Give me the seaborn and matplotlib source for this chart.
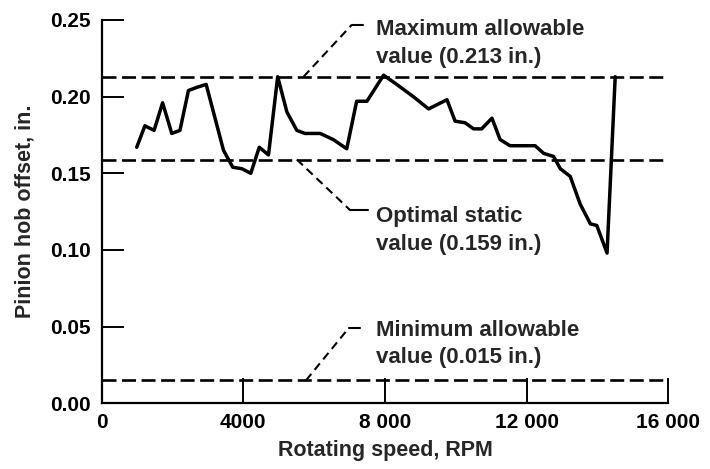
import matplotlib
matplotlib.use('Agg')
import matplotlib.pyplot as plt
import seaborn as sns

# pinion hob offset vs rotating speed
rpm = [990, 1220, 1480, 1720, 1980, 2210, 2450, 2680, 2950, 3440, 3700,
       3960, 4210, 4450, 4710, 4970, 5230, 5510, 5740, 6170, 6540, 6920,
       7200, 7490, 7960, 8330, 8800, 9230, 9750, 9980, 10260, 10500, 10730,
       11020, 11250, 11530, 12240, 12480, 12760, 12950, 13230, 13510, 13800,
       13980, 14270, 14500]
offset = [0.167, 0.181, 0.178, 0.196, 0.176, 0.178, 0.204, 0.206, 0.208,
          0.165, 0.154, 0.153, 0.150, 0.167, 0.162, 0.213, 0.190, 0.178,
          0.176, 0.176, 0.172, 0.166, 0.197, 0.197, 0.214, 0.208, 0.200,
          0.192, 0.198, 0.184, 0.183, 0.179, 0.179, 0.186, 0.172, 0.168,
          0.168, 0.163, 0.161, 0.153, 0.148, 0.130, 0.117, 0.116, 0.098,
          0.213]

limit_values = [0.213, 0.159, 0.015]
limit_labels = [('Maximum allowable', 'value (0.213 in.)'),
                ('Optimal static', 'value (0.159 in.)'),
                ('Minimum allowable', 'value (0.015 in.)')]
x_ticks = [0, 4000, 8000, 12000, 16000]
x_tick_labels = ['0', '4000', '8 000', '12 000', '16 000']
y_ticks = [0.00, 0.05, 0.10, 0.15, 0.20, 0.25]

sns.set_style('ticks')
plt.rcParams['font.family'] = ['Liberation Sans', 'DejaVu Sans']
plt.rcParams['font.weight'] = 'bold'

fig = plt.figure(figsize=(7.1, 4.69), dpi=100)
ax = fig.add_axes([0.1432, 0.140, 0.7981, 0.8174])

sns.lineplot(x=rpm, y=offset, ax=ax, color='black', linewidth=2.5,
             estimator=None, sort=False)

# limit lines
line_ends = [15900, 15900, 16000]
for val, xend in zip(limit_values, line_ends):
    ax.plot([0, xend], [val, val], color='black', linewidth=1.9,
            dashes=(5.3, 2.1), clip_on=False)

# leader lines: (start x, elbow x, elbow y, end x, baseline 1, baseline 2)
leaders = [(5700, 7060, 0.2468, 7380, 0.2403, 0.2218),
           (5510, 7010, 0.1261, 7530, 0.1185, 0.0998),
           (5770, 6970, 0.0489, 7300, 0.0439, 0.0261)]
for val, lines, (x0, xe, ye, x1, b1, b2) in zip(limit_values, limit_labels,
                                                leaders):
    ax.plot([x0, xe], [val, ye], color='black', linewidth=1.5,
            dashes=(4, 2.5), clip_on=False)
    ax.plot([xe, x1], [ye, ye], color='black', linewidth=1.5, clip_on=False)
    ax.text(7760, b1, lines[0], fontsize=16, fontweight='bold',
            va='baseline', ha='left')
    ax.text(7760, b2, lines[1], fontsize=16, fontweight='bold',
            va='baseline', ha='left')

ax.set_xlim(0, 16000)
ax.set_ylim(0, 0.25)
ax.set_xticks(x_ticks)
ax.set_xticklabels(x_tick_labels)
ax.set_yticks(y_ticks)
ax.set_yticklabels([f'{v:.2f}' for v in y_ticks])
ax.tick_params(axis='x', direction='in', length=18, width=1.4,
               labelsize=15, pad=7, colors='black')
ax.tick_params(axis='y', direction='in', length=16, width=1.4,
               labelsize=15, pad=8, colors='black')
for lab in ax.get_xticklabels() + ax.get_yticklabels():
    lab.set_fontweight('bold')

sns.despine(ax=ax)
for side in ['left', 'bottom']:
    ax.spines[side].set_linewidth(1.6)
    ax.spines[side].set_color('black')

ax.set_xlabel('Rotating speed, RPM', fontsize=15.5, fontweight='bold',
              labelpad=6)
ax.set_ylabel('Pinion hob offset, in.', fontsize=15.5, fontweight='bold',
              labelpad=10)

fig.savefig('out.png', dpi=100)
